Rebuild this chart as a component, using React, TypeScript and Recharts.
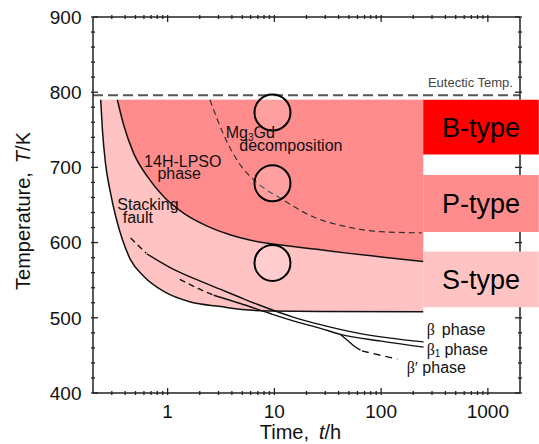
import React from 'react';
import {
  ComposedChart,
  XAxis,
  YAxis,
  Area,
  Line,
  ReferenceArea,
  ReferenceDot,
  ReferenceLine,
} from 'recharts';

const FONT = '"Liberation Sans", Arial, Helvetica, sans-serif';
const SERIF = '"Liberation Serif", "Times New Roman", serif';
const AX = '#222';
const INK = '#111';

// ---- axis ticks ----
const xMajorTicks = [1, 10, 100, 1000];
const xMinorTicks = [0.3, 0.4, 0.5, 0.6, 0.7, 0.8, 0.9, 2, 3, 4, 5, 6, 7, 8, 9, 20, 30, 40, 50, 60, 70, 80, 90, 200, 300, 400, 500, 600, 700, 800, 900];
const yMajorTicks = [400, 500, 600, 700, 800, 900];
const yMinorTicks = [420, 440, 460, 480, 520, 540, 560, 580, 620, 640, 660, 680, 720, 740, 760, 780, 820, 840, 860, 880];

// ---- reference values ----
const xMin = 0.2;
const xMax = 2000;
const yMin = 400;
const yMax = 900;
const eutecticTemp = 796;
const regionTop = 790;

// ---- curves: time (h) / temperature (K) ----
const faultTime = [0.236, 0.245, 0.262, 0.288, 0.326, 0.377, 0.45, 0.6, 0.92, 1.64, 3.13, 5, 9, 27, 248];
const faultTemp = [790, 750, 705, 670, 635, 604, 577, 555, 535, 521, 515, 511, 509, 508.5, 508];

const lpsoTime = [0.338, 0.39, 0.48, 0.645, 0.92, 1.42, 2.35, 3.9, 6, 11, 25, 48, 100, 248];
const lpsoTemp = [790, 755, 719, 688, 661, 639, 622, 610, 603, 597, 591, 586, 581, 575];

const mg3gdTime = [2.49, 3.36, 4.81, 6.7, 11.4, 23.3, 47.8, 98, 240];
const mg3gdTemp = [790, 743, 703, 681, 659, 634, 621, 614.5, 613];

const betaDashTime = [0.45, 0.63];
const betaDashTemp = [606, 586];
const betaTime = [0.64, 1.15, 2, 3.1, 4.8, 6.9, 15, 27, 64, 250];
const betaTemp = [585, 564, 549, 538, 527, 518, 501, 491, 479, 468];

const beta1DashTime = [1.3, 2.0, 2.7];
const beta1DashTemp = [551, 538, 530];
const beta1Time = [2.7, 4.8, 9, 15, 27, 41.5, 100, 250];
const beta1Temp = [530, 519, 506, 496, 486, 478, 469, 461];

const betaPrimeTime = [41.5, 48, 55.7, 64];
const betaPrimeTemp = [478, 470.5, 462.5, 457];
const betaPrimeDashTime = [66, 142];
const betaPrimeDashTemp = [456, 445];

// ---- type boxes ----
const boxNames = ['B-type', 'P-type', 'S-type'];
const boxLow = [717, 614, 514];
const boxHigh = [790, 690, 588];
const boxColors = ['#FF0000', '#FF8C8C', '#FFC3C3'];
const boxStartTime = 248;
const boxEndTime = 3000;

// ---- circles ----
const circleTime = 9.6;
const circleTemps = [773, 679, 573];

const zip = (ts: number[], Ts: number[]) => ts.map((t, i) => ({ t, T: Ts[i] }));
const rangeZip = (ts: number[], Ts: number[]) => ts.map((t, i) => ({ t, range: [Ts[i], regionTop] }));

const faultArea = rangeZip(faultTime, faultTemp);
const lpsoArea = rangeZip(lpsoTime, lpsoTemp);
const faultLine = zip(faultTime, faultTemp);
const lpsoLine = zip(lpsoTime, lpsoTemp);
const mg3gdLine = zip(mg3gdTime, mg3gdTemp);
const betaDash = zip(betaDashTime, betaDashTemp);
const betaLine = zip(betaTime, betaTemp);
const beta1Dash = zip(beta1DashTime, beta1DashTemp);
const beta1Line = zip(beta1Time, beta1Temp);
const betaPrimeLine = zip(betaPrimeTime, betaPrimeTemp);
const betaPrimeDash = zip(betaPrimeDashTime, betaPrimeDashTemp);

const xTicks = [...xMinorTicks, ...xMajorTicks].sort((a, b) => a - b);
const yTicks = [...yMinorTicks, ...yMajorTicks].sort((a, b) => a - b);

const insideBox = (v: number) => boxLow.some((lo, i) => v > lo && v < boxHigh[i]);

// right frame segments: the parts of the right axis not hidden by the boxes
const rightFrameSegments = (() => {
  const order = boxLow.map((lo, i) => [lo, boxHigh[i]]).sort((a, b) => a[0] - b[0]);
  const segs: number[][] = [];
  let start = yMin;
  order.forEach(([lo, hi]) => {
    segs.push([start, lo]);
    start = hi;
  });
  segs.push([start, yMax]);
  return segs;
})();

const BottomTick = (p: any) => {
  const { x, y, payload } = p;
  const major = xMajorTicks.includes(payload.value);
  return (
    <g>
      <line x1={x} x2={x} y1={y} y2={y - (major ? 7 : 4)} stroke={AX} strokeWidth={1.3} />
      {major && (
        <text x={x} y={y + 23} textAnchor="middle" fontFamily={FONT} fontSize={19} fill={INK}>
          {payload.value}
        </text>
      )}
    </g>
  );
};
const TopTick = (p: any) => {
  const { x, y, payload } = p;
  const major = xMajorTicks.includes(payload.value);
  return <line x1={x} x2={x} y1={y} y2={y + (major ? 7 : 4)} stroke={AX} strokeWidth={1.3} />;
};
const LeftTick = (p: any) => {
  const { x, y, payload } = p;
  const major = yMajorTicks.includes(payload.value);
  return (
    <g>
      <line x1={x} x2={x + (major ? 7 : 4)} y1={y} y2={y} stroke={AX} strokeWidth={1.3} />
      {major && (
        <text x={x - 9.5} y={y + 6.8} textAnchor="end" fontFamily={FONT} fontSize={19} fill={INK}>
          {payload.value}
        </text>
      )}
    </g>
  );
};
const RightTick = (p: any) => {
  const { x, y, payload } = p;
  if (insideBox(payload.value)) return <g />;
  const major = yMajorTicks.includes(payload.value);
  return <line x1={x} x2={x - (major ? 7 : 4)} y1={y} y2={y} stroke={AX} strokeWidth={1.3} />;
};

const xTitle = (p: any) => {
  const vb = p.viewBox || {};
  return (
    <text x={vb.x + vb.width / 2 - 6} y={vb.y + 46} textAnchor="middle" fontFamily={FONT} fontSize={20} fill={INK}>
      Time,<tspan dx={10} fontStyle="italic">t</tspan>/h
    </text>
  );
};
const yTitle = (p: any) => {
  const vb = p.viewBox || {};
  const cx = (vb.x || 0) + 30;
  const cy = 211;
  return (
    <text transform={`translate(${cx}, ${cy}) rotate(-90)`} textAnchor="middle" fontFamily={FONT} fontSize={20} fill={INK}>
      Temperature,<tspan dx={9} fontStyle="italic">T</tspan>/K
    </text>
  );
};

const note = (key: string, t: number, T: number, content: React.ReactNode, anchor: string, size: number, color = INK) => (
  <ReferenceDot
    key={key}
    x={t}
    y={T}
    r={0}
    fill="none"
    stroke="none"
    ifOverflow="visible"
    label={(p: any) => {
      const vb = p.viewBox || p;
      return (
        <text x={vb.x} y={vb.y} textAnchor={anchor} fontFamily={FONT} fontSize={size} fill={color}>
          {content}
        </text>
      );
    }}
  />
);

export default function App() {
  return (
    <div style={{ position: 'absolute', left: 0, top: 0, background: '#fff' }}>
      <ComposedChart width={539} height={444} margin={{ top: 0, right: 0, bottom: 0, left: 0 }}>
        <XAxis
          xAxisId={0}
          dataKey="t"
          type="number"
          scale="log"
          domain={[xMin, xMax]}
          allowDataOverflow
          ticks={xTicks}
          interval={0}
          tickSize={0}
          tickLine={false}
          tick={BottomTick}
          height={51}
          axisLine={{ stroke: AX, strokeWidth: 1.5 }}
          label={xTitle}
        />
        <XAxis
          xAxisId="top"
          orientation="top"
          dataKey="t"
          type="number"
          scale="log"
          domain={[xMin, xMax]}
          allowDataOverflow
          ticks={xTicks}
          interval={0}
          tickSize={0}
          tickLine={false}
          tick={TopTick}
          height={17}
          axisLine={{ stroke: AX, strokeWidth: 1.5 }}
        />
        <YAxis
          yAxisId={0}
          type="number"
          domain={[yMin, yMax]}
          allowDataOverflow
          ticks={yTicks}
          interval={0}
          tickSize={0}
          tickLine={false}
          tick={LeftTick}
          width={93}
          axisLine={{ stroke: AX, strokeWidth: 1.5 }}
          label={yTitle}
        />
        <YAxis
          yAxisId="right"
          orientation="right"
          type="number"
          domain={[yMin, yMax]}
          allowDataOverflow
          ticks={yTicks}
          interval={0}
          tickSize={0}
          tickLine={false}
          tick={RightTick}
          width={19}
          axisLine={false}
        />

        <Area data={faultArea} dataKey="range" type="monotone" fill="#FFC3C3" fillOpacity={1} stroke="none" dot={false} activeDot={false} isAnimationActive={false} />
        <Area data={lpsoArea} dataKey="range" type="monotone" fill="#FF8C8C" fillOpacity={1} stroke="none" dot={false} activeDot={false} isAnimationActive={false} />

        <ReferenceLine y={eutecticTemp} stroke="#555" strokeWidth={2} strokeDasharray="10 5" ifOverflow="visible" />
        {rightFrameSegments.map(([lo, hi], i) => (
          <ReferenceLine
            key={'rf' + i}
            segment={[{ x: xMax, y: lo }, { x: xMax, y: hi }]}
            stroke={AX}
            strokeWidth={1.5}
            ifOverflow="visible"
          />
        ))}

        <Line data={faultLine} dataKey="T" type="monotone" stroke={INK} strokeWidth={1.5} dot={false} activeDot={false} isAnimationActive={false} />
        <Line data={lpsoLine} dataKey="T" type="monotone" stroke={INK} strokeWidth={1.5} dot={false} activeDot={false} isAnimationActive={false} />
        <Line data={mg3gdLine} dataKey="T" type="monotone" stroke="#333" strokeWidth={1.2} strokeDasharray="6 4" dot={false} activeDot={false} isAnimationActive={false} />
        <Line data={betaDash} dataKey="T" type="monotone" stroke={INK} strokeWidth={1.4} strokeDasharray="6 4" dot={false} activeDot={false} isAnimationActive={false} />
        <Line data={betaLine} dataKey="T" type="monotone" stroke={INK} strokeWidth={1.4} dot={false} activeDot={false} isAnimationActive={false} />
        <Line data={beta1Dash} dataKey="T" type="monotone" stroke={INK} strokeWidth={1.4} strokeDasharray="6 4" dot={false} activeDot={false} isAnimationActive={false} />
        <Line data={beta1Line} dataKey="T" type="monotone" stroke={INK} strokeWidth={1.4} dot={false} activeDot={false} isAnimationActive={false} />
        <Line data={betaPrimeLine} dataKey="T" type="monotone" stroke={INK} strokeWidth={1.4} dot={false} activeDot={false} isAnimationActive={false} />
        <Line data={betaPrimeDash} dataKey="T" type="linear" stroke={INK} strokeWidth={1.4} strokeDasharray="7 5" dot={false} activeDot={false} isAnimationActive={false} />

        {boxNames.map((name, i) => (
          <ReferenceArea
            key={name}
            x1={boxStartTime}
            x2={boxEndTime}
            y1={boxLow[i]}
            y2={boxHigh[i]}
            fill={boxColors[i]}
            fillOpacity={1}
            stroke="none"
            ifOverflow="visible"
            label={{ value: name, position: 'center', fontSize: 27, fill: '#000', fontFamily: FONT }}
          />
        ))}

        {circleTemps.map((T, i) => (
          <ReferenceDot key={'c' + i} x={circleTime} y={T} r={18} fill="#ffffff" fillOpacity={0.18} stroke="#000" strokeWidth={2} ifOverflow="visible" />
        ))}

        {note('eut', 1718, 806.9, 'Eutectic Temp.', 'end', 13, '#444')}
        {note('mg', 3.5, 738.7, <>Mg<tspan fontSize={10} dy={3}>3</tspan><tspan dy={-3}>Gd</tspan></>, 'start', 16)}
        {note('dec', 4.69, 721.8, 'decomposition', 'start', 16)}
        {note('lpso', 1.387, 700.9, '14H-LPSO', 'middle', 16)}
        {note('lpso2', 1.284, 684.6, 'phase', 'middle', 16)}
        {note('sf', 0.3378, 643.4, 'Stacking', 'start', 16)}
        {note('sf2', 0.3795, 625.7, 'fault', 'start', 16)}
        {note('b', 267.4, 477.1, <><tspan fontFamily={SERIF}>β</tspan><tspan dx={7}>phase</tspan></>, 'start', 16)}
        {note('b1', 267.4, 450.5, <><tspan fontFamily={SERIF}>β</tspan><tspan fontSize={10} dy={2}>1</tspan><tspan dy={-2} dx={4}>phase</tspan></>, 'start', 16)}
        {note('bp', 173.7, 426.2, <><tspan fontFamily={SERIF}>β′</tspan><tspan dx={4}>phase</tspan></>, 'start', 16)}
      </ComposedChart>
    </div>
  );
}
